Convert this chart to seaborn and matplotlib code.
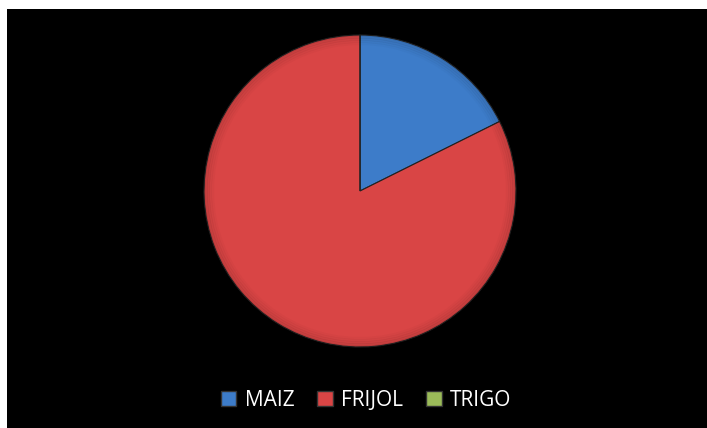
import numpy as np
import seaborn as sns
import matplotlib.pyplot as plt
from matplotlib.patches import Patch

# data
cultivos = ["MAIZ", "FRIJOL", "TRIGO"]
valores = [3, 14, 0]
colores = ["#3d7cc9", "#d94545", "#9bbb59"]

sns.set_style("dark")
plt.rcParams['font.family'] = ['Open Sans', 'DejaVu Sans']

W, H = 707, 428
fig = plt.figure(figsize=(W / 100, H / 100), dpi=100)
fig.patch.set_facecolor("white")

# black plot area (white strip left and top)
bg = fig.add_axes([7 / W, 0, (W - 7) / W, (H - 9) / H])
bg.set_facecolor("black")
bg.set_xticks([])
bg.set_yticks([])
for s in bg.spines.values():
    s.set_visible(False)

# pie axes
cx, cy, r = 360, 191, 156
ax = fig.add_axes([(cx - r) / W, (H - cy - r) / H, 2 * r / W, 2 * r / H])
ax.set_facecolor("none")
ax.axis("off")

wedges, _ = ax.pie(valores, colors=colores, startangle=90, counterclock=False,
                   radius=1.0,
                   wedgeprops=dict(edgecolor="#222222", linewidth=0.8))
ax.set_xlim(-1, 1)
ax.set_ylim(-1, 1)

# soft shading ring to mimic bevel look
for rr, a in zip(np.linspace(1.0, 0.93, 6), np.linspace(0.10, 0.0, 6)):
    ax.add_patch(plt.Circle((0, 0), rr, fill=False, color="black", alpha=a, lw=2))

handles = [Patch(facecolor=c, edgecolor="#333333", label=l)
           for c, l in zip(colores, cultivos)]
leg = fig.legend(handles=handles, loc="center", ncol=3,
                 bbox_to_anchor=(366 / W, 1 - 400 / H), frameon=False,
                 fontsize=15, handlelength=0.75, handleheight=0.75,
                 handletextpad=0.4, columnspacing=1.1)
for t in leg.get_texts():
    t.set_color("white")

fig.savefig("out.png", dpi=100, facecolor=fig.get_facecolor())
